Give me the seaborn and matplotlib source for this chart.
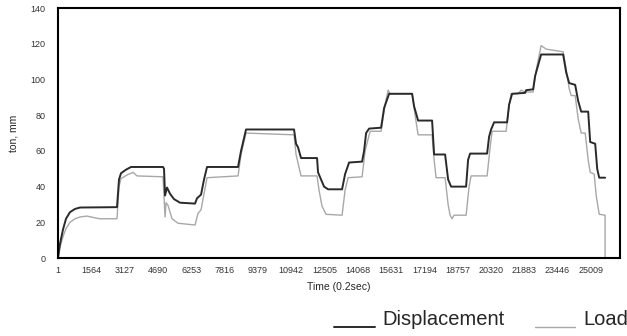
import pandas as pd
import matplotlib.pyplot as plt
import seaborn as sns
from matplotlib.legend_handler import HandlerLine2D

# --- Data (time index, value) ---

disp_time = [1, 95, 236, 376, 564, 799, 1034, 2770, 2864, 2958, 3193, 3428,
             4930, 4977, 5024, 5117, 5258, 5446, 5728, 6432, 6526, 6714, 6854,
             6995, 8450, 8591, 8826, 11079, 11173, 11267, 11407, 12158, 12205,
             12346, 12487, 12675, 13333, 13474, 13662, 14272, 14366, 14460,
             14601, 15164, 15305, 15540, 16620, 16713, 16901, 17558, 17652,
             18168, 18309, 18449, 19153, 19247, 19341, 20139, 20233, 20327,
             20467, 21078, 21172, 21312, 21923, 21971, 22299, 22393, 22675,
             23708, 23849, 23990, 24272, 24413, 24554, 24883, 24977, 25212,
             25306, 25400, 25677]
disp_value = [0, 8, 16, 22, 25.7, 27.5, 28.3, 28.5, 44, 47.5, 49.5, 51,
              51, 50, 35, 39.5, 36, 33, 31, 30.5, 33.5, 35.5, 44,
              51, 51, 60, 72, 72, 64, 62, 56, 56, 48,
              44, 40, 38.5, 38.5, 47, 53.5, 54, 60, 70,
              72.5, 73, 84, 92, 92, 85, 77, 77, 58,
              58, 44, 40, 40, 55, 58.5, 58.5, 68, 72,
              76, 76, 86, 92, 92.5, 94, 94.5, 102, 114,
              114, 104, 98, 97, 88, 82, 82, 65, 64,
              50, 45, 45]

load_time = [1, 95, 236, 376, 564, 799, 1034, 1363, 1739, 1973, 2770, 2864,
             2958, 3240, 3522, 3710, 4930, 5024, 5071, 5165, 5352, 5634, 6432,
             6573, 6714, 6808, 6995, 8450, 8591, 8826, 11079, 11173, 11407,
             12158, 12252, 12393, 12581, 13333, 13474, 13615, 14272, 14413,
             14648, 15164, 15352, 15493, 15587, 16620, 16760, 16901, 17558,
             17652, 17746, 18168, 18309, 18403, 18496, 18590, 19153, 19294,
             19388, 20139, 20280, 20374, 21031, 21172, 21265, 21594, 21734,
             21923, 22299, 22440, 22675, 22910, 23708, 23849, 23990, 24084,
             24272, 24413, 24554, 24742, 24883, 24977, 25165, 25259, 25400,
             25677, 25677]
load_value = [0, 6, 12, 16.5, 20, 22, 23, 23.5, 22.5, 22, 22, 40,
              44.5, 46.5, 48, 46, 45.5, 23, 31, 29.5, 22, 19.5, 18.5,
              25, 27, 33, 45, 46, 58, 70, 69, 58, 46,
              46, 38, 29, 24.5, 24, 38, 45, 45.5, 60,
              71, 71, 86, 94, 92, 92, 80, 69, 69,
              55, 45, 45, 30, 24, 22, 24, 24, 40,
              46, 46, 62, 71, 71, 85, 92, 92, 94,
              93, 93, 105, 119, 117, 115.5, 106, 95, 91,
              91, 78, 70, 70, 55, 48, 47, 35, 24.5,
              24, 0]

x_ticks = list(range(1, 25010, 1563))
y_ticks = list(range(0, 141, 20))

disp = pd.DataFrame({"time": disp_time, "value": disp_value})
load = pd.DataFrame({"time": load_time, "value": load_value})


# legend line sits on the text baseline, like an underscore
class BaselineLine(HandlerLine2D):
    def create_artists(self, legend, orig_handle, xdescent, ydescent,
                       width, height, fontsize, trans):
        artists = super().create_artists(legend, orig_handle, xdescent,
                                         ydescent, width, height, fontsize,
                                         trans)
        for a in artists:
            a.set_ydata([-ydescent - 0.12 * height] * len(a.get_xdata()))
        return artists


# --- Plot ---

sns.set_style("white")
plt.rcParams["font.family"] = ["Liberation Sans", "DejaVu Sans"]

fig = plt.figure(figsize=(6.27, 3.36), dpi=100)
ax = fig.add_axes([0.0925, 0.232, 0.8965, 0.744])

sns.lineplot(data=load, x="time", y="value", ax=ax, color="#a8a8a8",
             linewidth=1.0, estimator=None, sort=False, label="Load")
sns.lineplot(data=disp, x="time", y="value", ax=ax, color="#2a2a2a",
             linewidth=1.4, estimator=None, sort=False, label="Displacement")

ax.set_xlim(1, 26381)
ax.set_ylim(0, 140)
ax.set_xticks(x_ticks)
ax.set_xticklabels([str(t) for t in x_ticks])
ax.set_yticks(y_ticks)
ax.tick_params(axis="both", length=0, labelsize=6.5, colors="#333333")
ax.tick_params(axis="x", pad=6)
ax.tick_params(axis="y", pad=9)
for s in ax.spines.values():
    s.set_color("black")
    s.set_linewidth(1.5)

ax.set_xlabel("Time (0.2sec)", fontsize=7.5, labelpad=5)
ax.set_ylabel("ton, mm", fontsize=7.5, labelpad=8)

handles, labels = ax.get_legend_handles_labels()
ax.get_legend().remove()
fig.legend(handles[::-1], labels[::-1], loc="lower right",
           bbox_to_anchor=(1.031, -0.034), ncol=2, frameon=False,
           fontsize=14.5, handlelength=2.0, handletextpad=0.4,
           columnspacing=1.5, handler_map={h: BaselineLine() for h in handles})

fig.savefig("out.png", dpi=100)
